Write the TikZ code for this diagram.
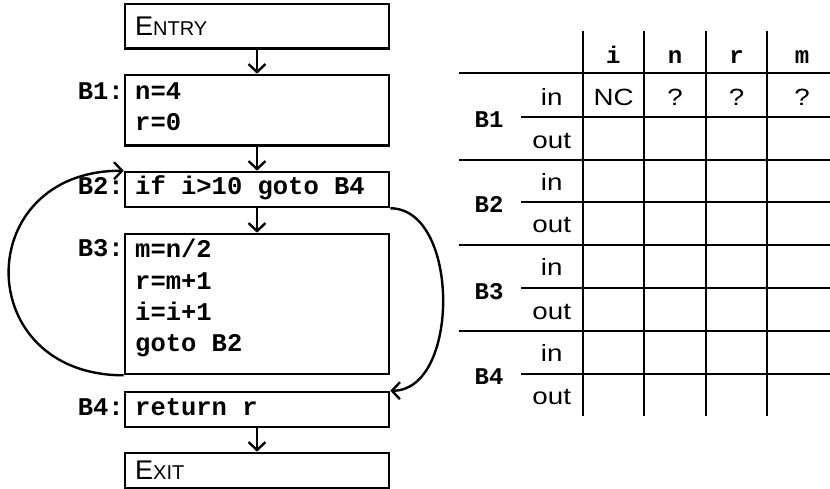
\documentclass[tikz,border=0pt]{standalone}
\usepackage{graphicx}
\usepackage{fontspec}
\setmainfont{Liberation Sans}
\setmonofont{Liberation Mono}
\usetikzlibrary{arrows.meta}
\tikzset{
  box/.style={draw, line width=2.6pt, minimum width=264pt, inner sep=0pt},
  code/.style={font=\ttfamily\bfseries\fontsize{25.5}{31}\selectfont, inner sep=0pt, anchor=base west},
  lbl/.style={font=\ttfamily\bfseries\fontsize{25.5}{31}\selectfont, inner sep=0pt, anchor=base east},
  sc/.style={font=\fontsize{27}{30}\selectfont, inner sep=0pt, anchor=base west},
  flow/.style={line width=2.4pt, -{Straight Barb[length=8pt,width=17pt]}},
  gridline/.style={line width=2pt},
  tcode/.style={font=\ttfamily\bfseries\fontsize{24}{28}\selectfont, inner sep=0pt, anchor=base},
  tsans/.style={font=\fontsize{23.5}{27}\selectfont, inner sep=0pt, anchor=base},
}
\newcommand{\smallcap}[2]{{\fontsize{27}{30}\selectfont #1}{\fontsize{20}{24}\selectfont #2}}
\newcommand{\wide}[1]{\scalebox{1.18}[1]{#1}}
\begin{document}
\begin{tikzpicture}[x=1pt,y=-1pt]
\useasboundingbox (0,0) rectangle (830,489);

% flow graph boxes
\node[box, minimum height=44.5pt] (entry) at (257,26.25) {};
\node[box, minimum height=70.5pt] (b1) at (257,110.25) {};
\node[box, minimum height=35pt] (b2) at (257,189.5) {};
\node[box, minimum height=140pt] (b3) at (257,304) {};
\node[box, minimum height=35pt] (b4) at (257,409.5) {};
\node[box, minimum height=35pt] (exit) at (257,470.5) {};

% box texts
\node[sc] (entryt) at (135,36) {\smallcap{E}{NTRY}};
\node[sc] (exitt) at (135,479) {\smallcap{E}{XIT}};
\node[code] (b1a) at (135,100) {n=4};
\node[code] (b1b) at (135,131) {r=0};
\node[code] (b2a) at (135,194.3) {if i>10 goto B4};
\node[code] (b3a) at (135,257.3) {m=n/2};
\node[code] (b3b) at (135,289.3) {r=m+1};
\node[code] (b3c) at (135,320.7) {i=i+1};
\node[code] (b3d) at (135,351.7) {goto B2};
\node[code] (b4a) at (135,415) {return r};

% block labels
\node[lbl] (l1) at (124,100) {B1:};
\node[lbl] (l2) at (124,194.3) {B2:};
\node[lbl] (l3) at (124,256.7) {B3:};
\node[lbl] (l4) at (124,415) {B4:};

% connectors
\draw[flow] (entry.south) -- (b1.north);
\draw[flow] (b1.south) -- (b2.north);
\draw[flow] (b2.south) -- (b3.north);
\draw[flow] (b4.south) -- (exit.north);
\draw[flow] (b3.south west) .. controls +(-153,0) and +(-153,0) .. (b2.north west);
\draw[flow] (b2.south east) .. controls +(70,0) and +(70,0) .. (b4.north east);

% table grid
\foreach \x in {582.7,644,705.7,767.3} \draw[gridline] (\x,31) -- (\x,416);
\foreach \y in {73.3,160,245,330.7} \draw[gridline] (459,\y) -- (830,\y);
\foreach \y in {116.7,202.3,288,373.7} \draw[gridline] (521,\y) -- (830,\y);

% table header
\node[tcode] (hi) at (613.3,63.3) {i};
\node[tcode] (hn) at (675,63.3) {n};
\node[tcode] (hr) at (736.5,63.3) {r};
\node[tcode] (hm) at (802,63.3) {m};

% row labels
\node[tcode] (r1) at (489,127.7) {B1};
\node[tcode] (r2) at (489,212.3) {B2};
\node[tcode] (r3) at (489,299.3) {B3};
\node[tcode] (r4) at (489,384.3) {B4};

% in / out
\node[tsans] (i1) at (551.7,106) {\wide{in}};
\node[tsans] (o1) at (551.7,148.7) {\wide{out}};
\node[tsans] (i2) at (551.7,191) {\wide{in}};
\node[tsans] (o2) at (551.7,233) {\wide{out}};
\node[tsans] (i3) at (551.7,276) {\wide{in}};
\node[tsans] (o3) at (551.7,319) {\wide{out}};
\node[tsans] (i4) at (551.7,361.7) {\wide{in}};
\node[tsans] (o4) at (551.7,404.3) {\wide{out}};

% values
\node[tsans] (v1) at (613.7,106) {\wide{NC}};
\node[tsans] (v2) at (675,106) {\wide{?}};
\node[tsans] (v3) at (736.5,106) {\wide{?}};
\node[tsans] (v4) at (802,106) {\wide{?}};
\end{tikzpicture}
\end{document}
